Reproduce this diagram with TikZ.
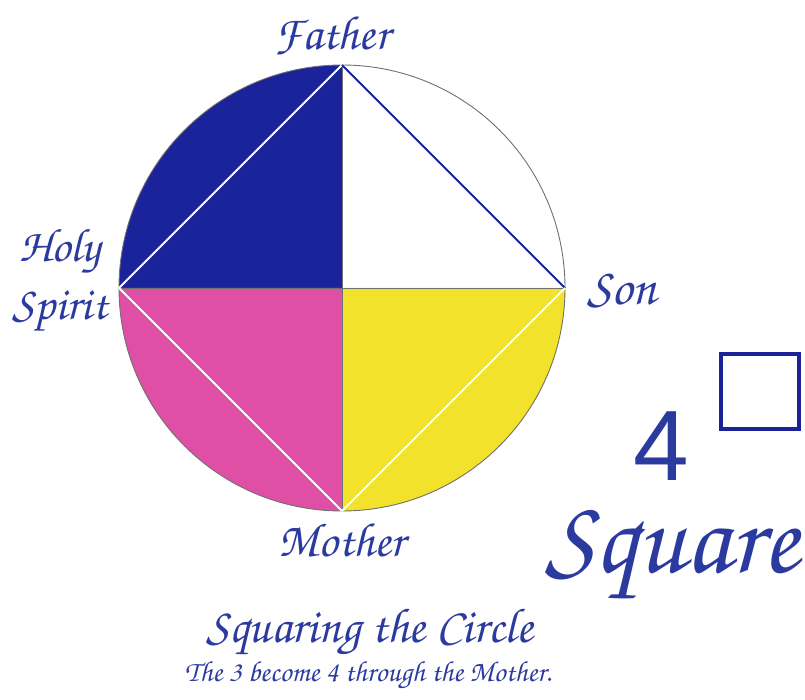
\documentclass[tikz,border=0pt]{standalone}
\usepackage[T1,TU]{fontenc}
\usepackage{fontspec}
\setmainfont{Liberation Sans}
\newcommand\scriptfnt{\fontencoding{T1}\fontfamily{pzc}\fontseries{mb}\fontshape{it}\selectfont}
\definecolor{qblue}{HTML}{1A239A}
\definecolor{qpink}{HTML}{E04FA6}
\definecolor{qyellow}{HTML}{F2E22B}
\definecolor{txtblue}{HTML}{2B3A9E}
\definecolor{rimgray}{HTML}{707070}
\tikzset{
  lbl/.style={text=txtblue, inner sep=0pt, font=\scriptfnt},
  rim/.style={draw=rimgray, line width=0.9pt},
  chord/.style={draw=white, line width=2pt},
}
\begin{document}
\begin{tikzpicture}[x=1pt,y=-1pt]
\useasboundingbox (0,0) rectangle (805,700);
\fill[white] (0,0) rectangle (805,700);
\coordinate (C) at (342,288);
\coordinate (T) at (342,65);
\coordinate (R) at (565,288);
\coordinate (B) at (342,511);
\coordinate (L) at (119,288);
% quadrants
\fill[qblue] (C) -- (L) arc[start angle=180,end angle=270,radius=223] -- cycle;
\fill[qpink] (C) -- (B) arc[start angle=90,end angle=180,radius=223] -- cycle;
\fill[qyellow] (C) -- (R) arc[start angle=0,end angle=90,radius=223] -- cycle;
% rim and dividers
\draw[rim] (C) circle[radius=223];
\draw[rim] (L) -- (R);
\draw[rim] (T) -- (B);
% inscribed square
\draw[chord] (L) -- (T);
\draw[draw=qblue, line width=2pt] (T) -- (R);
\draw[chord] (R) -- (B);
\draw[chord] (B) -- (L);
% labels
\node[lbl, font=\scriptfnt\fontsize{48}{48}\selectfont] (father) at (332,36) {Father};
\node[lbl, font=\scriptfnt\fontsize{47}{58}\selectfont, align=center] (holy) at (60,281) {Holy\\Spirit};
\node[lbl, font=\scriptfnt\fontsize{52}{52}\selectfont] (son) at (622,290) {Son};
\node[lbl, font=\scriptfnt\fontsize{48}{48}\selectfont] (mother) at (342,540) {Mother};
\node[text=txtblue, inner sep=0pt, anchor=base, font=\fontsize{100}{100}\selectfont] (four) at (661,480) {4};
\node[draw=qblue, line width=4pt, minimum width=78pt, minimum height=75pt, inner sep=0pt] (box) at (760,391) {};
\node[lbl, anchor=base, font=\scriptfnt\fontsize{106}{106}\selectfont] (square) at (672,572) {Square};
\node[lbl, font=\scriptfnt\fontsize{49}{49}\selectfont] (title) at (370,633) {Squaring the Circle};
\node[lbl, font=\scriptfnt\fontsize{29}{29}\selectfont] (sub) at (368,676) {The 3 become 4 through the Mother.};
\end{tikzpicture}
\end{document}
